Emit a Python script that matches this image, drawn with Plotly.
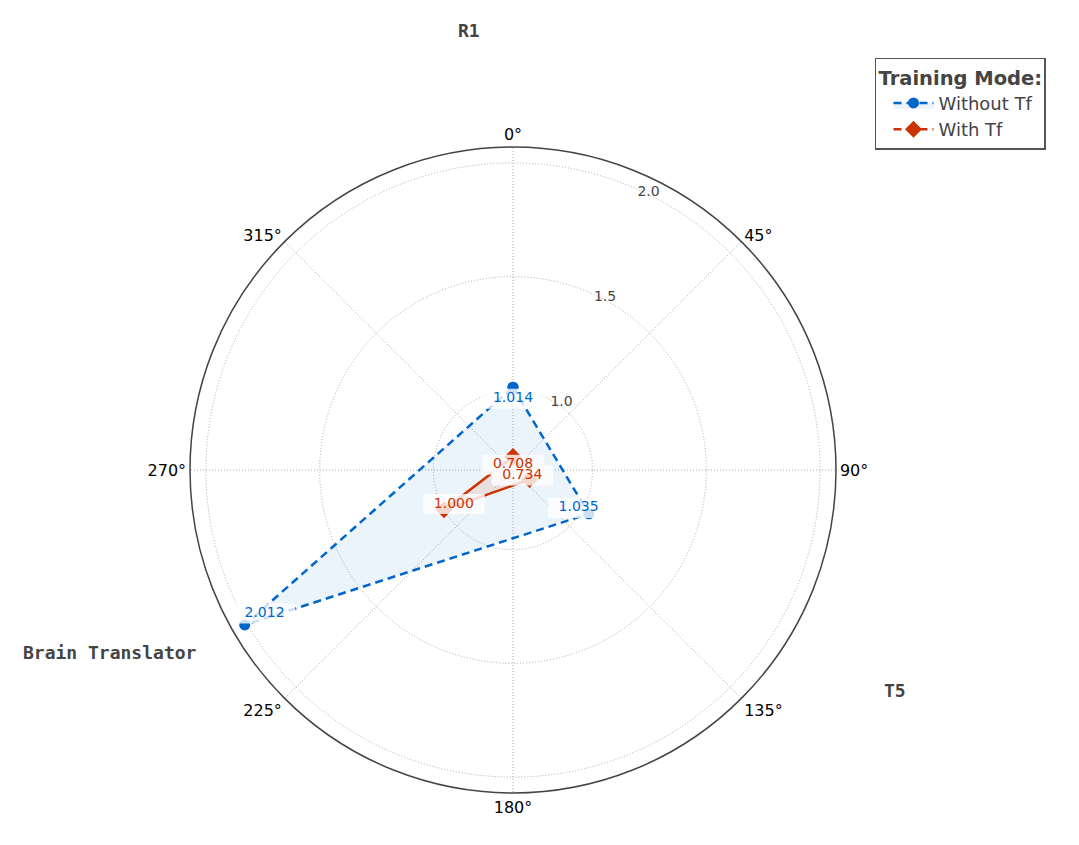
import plotly.graph_objects as go

# -----------------------------
# Data
# -----------------------------
models = ['R1', 'T5', 'Brain Translator']
angles = [0, 120, 240]
without_tf = [1.014, 1.035, 2.012]
with_tf = [0.708, 0.734, 1.000]

angle_ticks = [0, 45, 90, 135, 180, 225, 270, 315]
radial_ticks = [1.0, 1.5, 2.0]

BLUE = '#0066CC'
RED = '#CC3300'


def closed(vals):
    return vals + vals[:1]


def label_trace(vals, color):
    # value labels sit just inside each point, on a pale box
    return go.Scatterpolar(
        r=[v * 0.95 for v in vals],
        theta=angles,
        mode='markers+text',
        text=[f'{v:.3f}' for v in vals],
        textposition='middle center',
        textfont=dict(family='DejaVu Sans', size=14, color=color),
        marker=dict(symbol='line-ew', size=44, opacity=0.8,
                    line=dict(width=20, color='white')),
        showlegend=False,
        hoverinfo='skip',
    )


fig = go.Figure()

fig.add_trace(go.Scatterpolar(
    r=closed(without_tf), theta=closed(angles),
    mode='lines+markers', name='Without Tf',
    fill='toself', fillcolor='rgba(0,102,204,0.08)',
    line=dict(color=BLUE, width=2.5, dash='8px,5px'),
    marker=dict(symbol='circle', size=11, color=BLUE),
))

fig.add_trace(go.Scatterpolar(
    r=closed(with_tf), theta=closed(angles),
    mode='lines+markers', name='With Tf',
    fill='toself', fillcolor='rgba(204,51,0,0.10)',
    line=dict(color=RED, width=2.5),
    marker=dict(symbol='diamond', size=13, color=RED),
    showlegend=False,
))

# legend entry for the red series (drawn dashed in the legend)
fig.add_trace(go.Scatterpolar(
    r=[None], theta=[None], mode='lines+markers', name='With Tf',
    line=dict(color=RED, width=2.5, dash='8px,5px'),
    marker=dict(symbol='diamond', size=13, color=RED),
))

fig.add_trace(label_trace(without_tf, BLUE))
fig.add_trace(label_trace(with_tf, RED))

# category names around the chart
label_pos = {'R1': (0.449, 1.18), 'T5': (0.941, 0.159), 'Brain Translator': (0.035, 0.218)}
for name in models:
    x, y = label_pos[name]
    fig.add_annotation(
        x=x, y=y, xref='paper', yref='paper', showarrow=False,
        xanchor='center', yanchor='middle',
        text=f'<b>{name}</b>',
        font=dict(family='DejaVu Sans Mono', size=18, color='#444444'),
    )

fig.update_layout(
    width=1079, height=845,
    paper_bgcolor='white',
    font=dict(family='DejaVu Sans', color='#444444'),
    # page body adds 8px, so margins are shifted to compensate
    margin=dict(l=72, r=141, t=139, b=60, autoexpand=False),
    polar=dict(
        bgcolor='white',
        angularaxis=dict(
            direction='clockwise', rotation=90,
            tickmode='array', tickvals=angle_ticks,
            ticktext=[f'{a}°' for a in angle_ticks],
            tickfont=dict(size=16, color='black'),
            showline=True, linecolor='#444444', linewidth=1.5,
            gridcolor='#aaaaaa', griddash='1px,2px', ticks='',
        ),
        radialaxis=dict(
            range=[0.65, 2.07], tickvals=radial_ticks, tickformat='.1f',
            angle=67.5, tickangle=67.5, showline=False, ticks='',
            gridcolor='#aaaaaa', griddash='1px,2px',
            tickfont=dict(size=14, color='#444444'),
        ),
    ),
    legend=dict(
        x=0.918, y=1.138, xanchor='left', yanchor='top',
        title=dict(text='<b>Training Mode:</b>', font=dict(size=19.5, color='#444444')),
        font=dict(size=18, color='#444444'),
        indentation=12, itemwidth=40,
        bgcolor='white', bordercolor='#555555', borderwidth=1.5,
    ),
)

fig.write_html('out.html')
